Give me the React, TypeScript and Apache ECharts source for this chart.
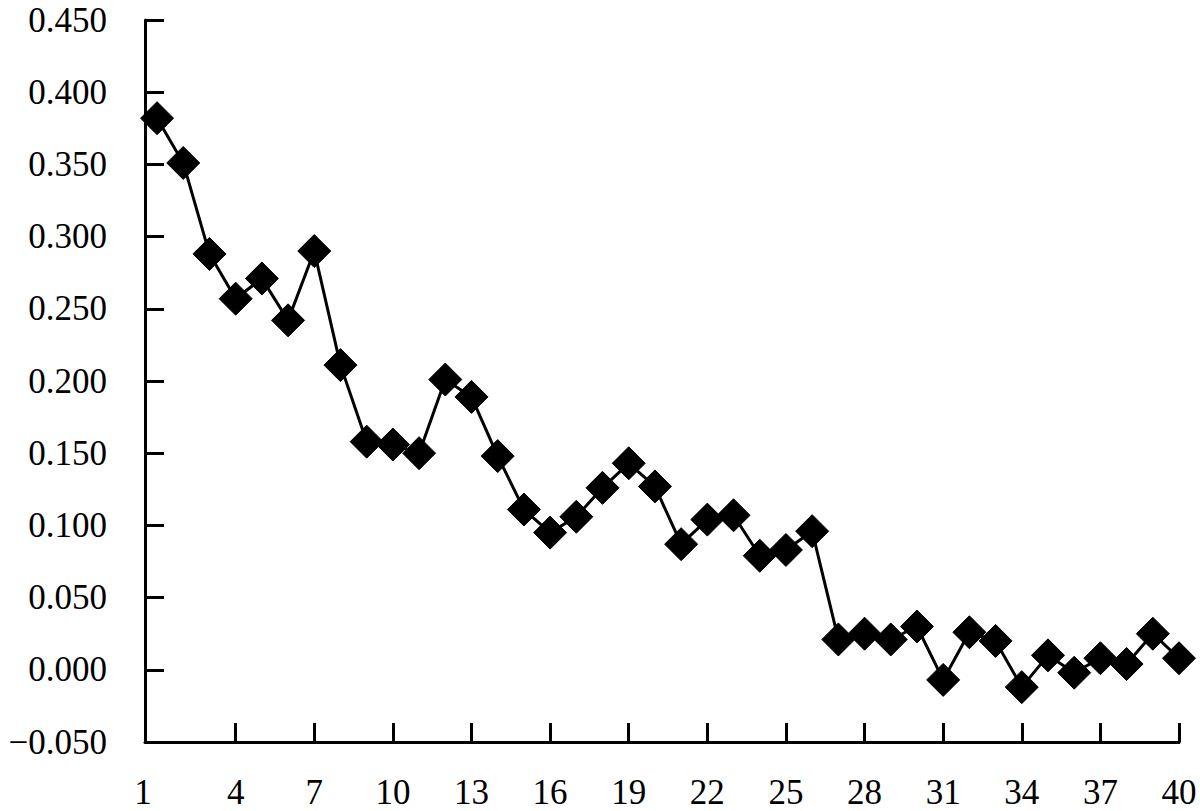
import React, { useEffect, useRef } from "react";
import * as echarts from "echarts";

const indices: number[] = Array.from({ length: 40 }, (_, i) => i + 1);
const values: number[] = [
  0.382, 0.351, 0.288, 0.257, 0.271, 0.242, 0.290, 0.211, 0.158, 0.156,
  0.150, 0.201, 0.189, 0.148, 0.111, 0.095, 0.106, 0.126, 0.143, 0.127,
  0.087, 0.104, 0.107, 0.079, 0.083, 0.096, 0.021, 0.025, 0.021, 0.030,
  -0.007, 0.026, 0.020, -0.012, 0.010, -0.002, 0.008, 0.004, 0.025, 0.008,
];
const xTickValues: number[] = [4, 7, 10, 13, 16, 19, 22, 25, 28, 31, 34, 37, 40];
const xLabelValues: number[] = [1, 4, 7, 10, 13, 16, 19, 22, 25, 28, 31, 34, 37, 40];

const FONT = "Liberation Serif, Times New Roman, serif";

export default function App() {
  const ref = useRef<HTMLDivElement>(null);
  useEffect(() => {
    if (!ref.current) return;
    const chart = echarts.init(ref.current, undefined, { renderer: "svg" });
    const data = indices.map((x, i) => [x, values[i]]);
    chart.setOption({
      animation: false,
      backgroundColor: "#ffffff",
      textStyle: { fontFamily: FONT },
      grid: { left: 145, right: 21, top: 20, bottom: 69, containLabel: false },
      xAxis: {
        type: "value",
        min: 0.54,
        max: 40,
        splitLine: { show: false },
        axisLine: { show: true, onZero: false, lineStyle: { color: "#000", width: 3 } },
        axisTick: {
          show: true,
          inside: true,
          length: 19,
          lineStyle: { color: "#000", width: 3 },
          customValues: xTickValues,
        },
        axisLabel: {
          customValues: xLabelValues,
          color: "#000",
          fontFamily: FONT,
          fontSize: 35,
          lineHeight: 30,
          margin: 35,
          formatter: (v: number) => (v === 1 ? "{a|1}" : String(v)),
          rich: {
            a: { fontFamily: FONT, fontSize: 35, lineHeight: 30, color: "#000", padding: [0, 28, 0, 0] },
          },
        },
      },
      yAxis: {
        type: "value",
        min: -0.05,
        max: 0.45,
        interval: 0.05,
        splitLine: { show: false },
        axisLine: { show: true, lineStyle: { color: "#000", width: 3 } },
        axisTick: { show: true, inside: true, length: 19, lineStyle: { color: "#000", width: 3 } },
        axisLabel: {
          color: "#000",
          fontFamily: FONT,
          fontSize: 35,
          lineHeight: 28,
          margin: 38,
          formatter: (v: number) => {
            const s = Math.abs(v).toFixed(3);
            return v < -1e-9 ? "\u2212" + s : s;
          },
        },
      },
      series: [
        {
          type: "line",
          data,
          symbol: "diamond",
          symbolSize: 33,
          itemStyle: { color: "#000", borderColor: "#000", borderWidth: 1 },
          lineStyle: { color: "#000", width: 3 },
        },
      ],
    });
    return () => chart.dispose();
  }, []);
  return (
    <div
      ref={ref}
      style={{ position: "fixed", left: 0, top: 0, width: 1200, height: 811, background: "#fff" }}
    />
  );
}
